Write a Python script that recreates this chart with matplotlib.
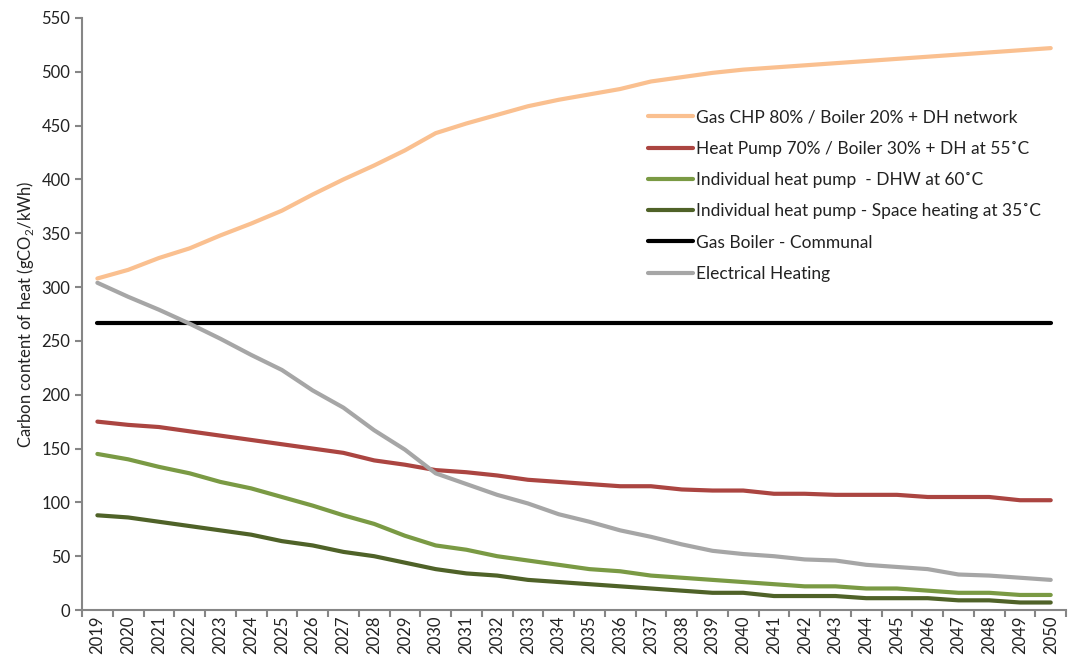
import numpy as np
import matplotlib
matplotlib.use("Agg")
import matplotlib.pyplot as plt
from matplotlib.ticker import FixedLocator, MultipleLocator

plt.rcParams['font.family'] = ['Lato', 'DejaVu Sans']
plt.rcParams['mathtext.fontset'] = 'custom'
plt.rcParams['mathtext.rm'] = 'Lato'

# Years on the category axis
years = list(range(2019, 2051))

# Series values (gCO2/kWh)
gas_chp = [308, 316, 327, 336, 348, 359, 371, 386, 400, 413, 427, 443,
           452, 460, 468, 474, 479, 484, 491, 495, 499, 502,
           504, 506, 508, 510, 512, 514, 516, 518, 520, 522]
heat_pump_dh = [175, 172, 170, 166, 162, 158, 154, 150, 146, 139, 135, 130,
                128, 125, 121, 119, 117, 115, 115, 112, 111, 111,
                108, 108, 107, 107, 107, 105, 105, 105, 102, 102]
ind_hp_dhw = [145, 140, 133, 127, 119, 113, 105, 97, 88, 80, 69, 60,
              56, 50, 46, 42, 38, 36, 32, 30, 28, 26,
              24, 22, 22, 20, 20, 18, 16, 16, 14, 14]
ind_hp_space = [88, 86, 82, 78, 74, 70, 64, 60, 54, 50, 44, 38,
                34, 32, 28, 26, 24, 22, 20, 18, 16, 16,
                13, 13, 13, 11, 11, 11, 9, 9, 7, 7]
gas_boiler = [267] * len(years)
electrical = [304, 291, 279, 266, 252, 237, 223, 204, 188, 167, 149, 127,
              117, 107, 99, 89, 82, 74, 68, 61, 55, 52,
              50, 47, 46, 42, 40, 38, 33, 32, 30, 28]

series = [
    ("Gas CHP 80% / Boiler 20% + DH network", gas_chp, "#FAC090"),
    ("Heat Pump 70% / Boiler 30% + DH at 55\u02daC", heat_pump_dh, "#AB4541"),
    ("Individual heat pump  - DHW at 60\u02daC", ind_hp_dhw, "#7A9A44"),
    ("Individual heat pump - Space heating at 35\u02daC", ind_hp_space, "#4F6228"),
    ("Gas Boiler - Communal", gas_boiler, "#000000"),
    ("Electrical Heating", electrical, "#A6A6A6"),
]

fig = plt.figure(figsize=(10.72, 6.63), dpi=100)
ax = fig.add_axes([0.0765, 0.0799, 0.918, 0.893])

x = np.arange(len(years))
for label, vals, color in series:
    ax.plot(x, vals, color=color, lw=3, label=label, solid_capstyle='round')

ax.set_xlim(-0.5, len(years) - 0.5)
ax.set_ylim(0, 550)
ax.yaxis.set_major_locator(MultipleLocator(50))

ax.set_xticks(x)
ax.set_xticklabels([str(y) for y in years], rotation=90, fontsize=12, color="#222222")
ax.xaxis.set_minor_locator(FixedLocator(np.arange(-0.5, len(years), 1)))
ax.tick_params(axis='x', which='major', length=0, pad=4)
ax.tick_params(axis='x', which='minor', length=5, width=1.5, color="#868686")
ax.tick_params(axis='y', length=5, width=1.5, color="#868686", labelsize=12, labelcolor="#222222")

for side in ['top', 'right']:
    ax.spines[side].set_visible(False)
for side in ['left', 'bottom']:
    ax.spines[side].set_color("#868686")
    ax.spines[side].set_linewidth(1.5)

ax.set_ylabel("Carbon content of heat (gCO$_2$/kWh)", fontsize=12, color="#222222", labelpad=4)

leg = ax.legend(loc='upper left', bbox_to_anchor=(0.559, 0.872), frameon=False,
                fontsize=12.5, handlelength=2.6, handletextpad=0.2, labelspacing=0.88)
for t in leg.get_texts():
    t.set_color("#222222")

fig.savefig("out.png", dpi=100)
